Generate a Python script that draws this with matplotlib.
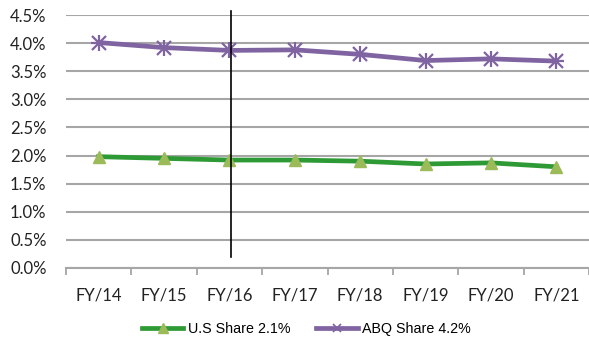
import matplotlib
matplotlib.use("Agg")
import matplotlib.pyplot as plt
from matplotlib.ticker import FuncFormatter, FixedLocator
from matplotlib.lines import Line2D

categories = ["FY/14", "FY/15", "FY/16", "FY/17", "FY/18", "FY/19", "FY/20", "FY/21"]
us_share = [1.98, 1.95, 1.92, 1.92, 1.90, 1.85, 1.87, 1.80]
abq_share = [4.01, 3.92, 3.87, 3.88, 3.80, 3.69, 3.72, 3.68]
us_label = "U.S Share 2.1%"
abq_label = "ABQ Share 4.2%"
y_ticks = [0.0, 0.5, 1.0, 1.5, 2.0, 2.5, 3.0, 3.5, 4.0, 4.5]

fig = plt.figure(figsize=(5.89, 3.39), dpi=100)
ax = fig.add_axes([66 / 589, 1 - 268 / 339, 1 - 66 / 589, (268 - 15) / 339])

x = list(range(len(categories)))
ax.plot(x, us_share, color="#2E9A35", lw=3.4, marker="^", ms=8.5,
        mfc="#9BBB59", mec="#9BBB59", label=us_label, zorder=3)
ax.plot(x, abq_share, color="#8064A2", lw=3.4, marker="x", ms=10, mew=1.6,
        mec="#8064A2", label=abq_label, zorder=3)
ax.plot(x, abq_share, ls="none", marker="+", ms=12, mew=1.6,
        mec="#8064A2", zorder=3)

# vertical divider near FY/16
ax.plot([2.03, 2.03], [4.57, 0.2], color="black", lw=1.2, clip_on=False, zorder=4)

ax.set_xlim(-0.5, len(categories) - 0.5)
ax.set_ylim(0, 4.5)
ax.set_yticks(y_ticks)
ax.yaxis.set_major_formatter(FuncFormatter(lambda v, p: f"{v:.1f}%"))
ax.grid(axis="y", color="#A6A6A6", lw=1.5)
ax.set_axisbelow(True)

ax.set_xticks(x)
ax.set_xticklabels(categories)
ax.xaxis.set_minor_locator(FixedLocator([i - 0.5 for i in range(len(categories) + 1)]))
ax.tick_params(axis="x", which="major", length=0, pad=14, labelsize=12)
ax.tick_params(axis="x", which="minor", length=5, width=1.3, color="#A6A6A6", direction="out")
ax.tick_params(axis="y", length=0, pad=14, labelsize=12)
for lbl in ax.get_xticklabels() + ax.get_yticklabels():
    lbl.set_fontfamily("Lato")
    lbl.set_color("#222222")

for s in ("left", "right", "top"):
    ax.spines[s].set_visible(False)
ax.spines["bottom"].set_color("#A6A6A6")
ax.spines["bottom"].set_linewidth(1.5)

handles = [
    Line2D([], [], color="#2E9A35", lw=3.4, marker="^", ms=6.5, mfc="#9BBB59", mec="#9BBB59"),
    Line2D([], [], color="#8064A2", lw=3.4, marker="x", ms=6, mew=1.2, mec="#8064A2"),
]
fig.legend(handles, [us_label, abq_label], loc="center", bbox_to_anchor=(0.52, 1 - 329 / 339),
           ncol=2, frameon=False, prop={"family": "Liberation Sans", "size": 10.3},
           handlelength=2.9, handletextpad=0.3, columnspacing=1.8)

fig.savefig("out.png", dpi=100)
